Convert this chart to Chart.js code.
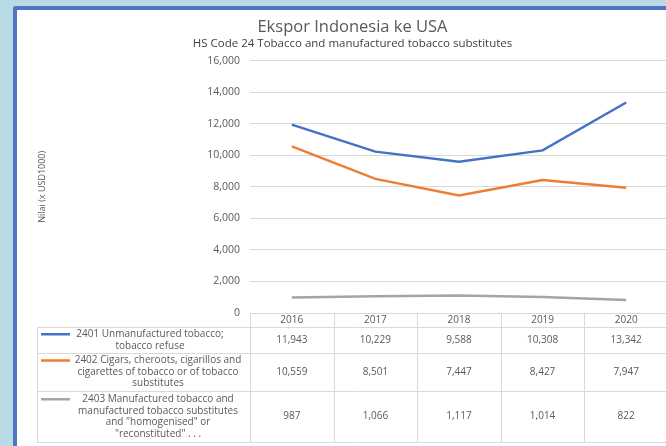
<!DOCTYPE html>
<html>
<head>
<meta charset="utf-8">
<script src="https://cdn.jsdelivr.net/npm/chart.js@4"></script>
<style>
  html, body { margin: 0; padding: 0; overflow: hidden; }
  body { width: 666px; height: 446px; background: #b8dae2; position: relative; }
  #panel { position: absolute; left: 13px; top: 6px; width: 700px; height: 460px; background: #fff;
           border-left: 4px solid #4f74c1; border-top: 4px solid #4f74c1; border-top-left-radius: 3px; }
  #wrap { position: absolute; left: 0; top: 0; width: 668px; height: 436px; }
</style>
</head>
<body>
<div id="panel"><div id="wrap"><canvas id="MyChart"></canvas></div></div>
<script>
const years = ['2016', '2017', '2018', '2019', '2020'];
const unmanufactured = [11943, 10229, 9588, 10308, 13342];
const cigars = [10559, 8501, 7447, 8427, 7947];
const manufactured = [987, 1066, 1117, 1014, 822];

const unmanufacturedLabel = ['2401 Unmanufactured tobacco;', 'tobacco refuse'];
const cigarsLabel = ['2402 Cigars, cheroots, cigarillos and', 'cigarettes of tobacco or of tobacco', 'substitutes'];
const manufacturedLabel = ['2403 Manufactured tobacco and', 'manufactured tobacco substitutes', 'and "homogenised" or', '"reconstituted" . . .'];

const textColor = '#595959';
const gridColor = '#d9d9d9';
const fontFamily = '"Open Sans", sans-serif';

// data table drawn under the plot, columns follow the x scale
const dataTable = {
  id: 'dataTable',
  afterDraw(chart) {
    const { ctx, chartArea, scales: { x } } = chart;
    const colW = x.getPixelForValue(1) - x.getPixelForValue(0);
    const gridLeft = chartArea.left;
    const right = gridLeft + colW * years.length;
    const keyLeft = 20;
    const rowHeights = [14, 26, 38, 51];
    const labelCenters = [133, 141, 141];
    const rowTops = [chartArea.bottom];
    rowHeights.forEach((h, i) => rowTops.push(rowTops[i] + h));
    const bottom = rowTops[rowTops.length - 1];

    ctx.save();
    ctx.strokeStyle = gridColor;
    ctx.lineWidth = 1;
    ctx.beginPath();
    ctx.moveTo(gridLeft, rowTops[0] + 0.5);
    ctx.lineTo(right, rowTops[0] + 0.5);
    for (let r = 1; r < rowTops.length; r++) {
      ctx.moveTo(keyLeft, Math.round(rowTops[r]) + 0.5);
      ctx.lineTo(right, Math.round(rowTops[r]) + 0.5);
    }
    ctx.moveTo(keyLeft + 0.5, rowTops[1]);
    ctx.lineTo(keyLeft + 0.5, bottom);
    for (let k = 0; k <= years.length; k++) {
      const px = Math.round(gridLeft + k * colW) + 0.5;
      ctx.moveTo(px, rowTops[0]);
      ctx.lineTo(px, bottom);
    }
    ctx.stroke();

    ctx.fillStyle = textColor;
    ctx.font = '10px ' + fontFamily;
    ctx.textAlign = 'center';
    ctx.textBaseline = 'middle';
    years.forEach((yr, i) => {
      ctx.fillText(yr, x.getPixelForValue(i), (rowTops[0] + rowTops[1]) / 2);
    });

    const lineH = 11.5;
    chart.data.datasets.forEach((ds, r) => {
      const mid = (rowTops[r + 1] + rowTops[r + 2]) / 2;
      ds.data.forEach((v, i) => {
        ctx.fillText(v.toLocaleString('en-US'), x.getPixelForValue(i), mid);
      });
      const lines = ds.label;
      const firstY = mid - (lines.length - 1) * lineH / 2;
      lines.forEach((t, j) => ctx.fillText(t, labelCenters[r], firstY + j * lineH));
      ctx.strokeStyle = ds.borderColor;
      ctx.lineWidth = 2.5;
      ctx.beginPath();
      ctx.moveTo(24, firstY);
      ctx.lineTo(53, firstY);
      ctx.stroke();
    });
    ctx.restore();
  }
};

new Chart('MyChart', {
  type: 'line',
  data: {
    labels: years,
    datasets: [
      { label: unmanufacturedLabel, data: unmanufactured, borderColor: '#4472c4', backgroundColor: '#4472c4' },
      { label: cigarsLabel, data: cigars, borderColor: '#ed7d31', backgroundColor: '#ed7d31' },
      { label: manufacturedLabel, data: manufactured, borderColor: '#a5a5a5', backgroundColor: '#a5a5a5' },
    ],
  },
  options: {
    responsive: true,
    maintainAspectRatio: false,
    animation: false,
    layout: { padding: { left: 20, right: 17, top: 0, bottom: 133 } },
    elements: {
      line: { borderWidth: 2.5, tension: 0 },
      point: { radius: 0 },
    },
    plugins: {
      legend: { display: false },
      tooltip: { enabled: false },
      title: {
        display: true,
        text: 'Ekspor Indonesia ke USA',
        color: textColor,
        font: { family: fontFamily, size: 16.5, weight: 'normal' },
        padding: { top: 7, bottom: 0 },
      },
      subtitle: {
        display: true,
        text: 'HS Code 24 Tobacco and manufactured tobacco substitutes',
        color: '#404040',
        font: { family: fontFamily, size: 11.5 },
        padding: { top: 0, bottom: 10 },
      },
    },
    scales: {
      x: { display: false, offset: true },
      y: {
        min: 0,
        max: 16000,
        afterFit: (scale) => { scale.width = 213; },
        ticks: {
          stepSize: 2000,
          color: textColor,
          padding: 10,
          font: { family: fontFamily, size: 10.5 },
          callback: (v) => v.toLocaleString('en-US'),
        },
        grid: { color: gridColor, drawTicks: false },
        border: { display: false },
        title: {
          display: true,
          text: 'Nilai (x USD1000)',
          color: textColor,
          font: { family: fontFamily, size: 9 },
          padding: { top: 0, bottom: 0 },
        },
      },
    },
  },
  plugins: [dataTable],
});
</script>
</body>
</html>
